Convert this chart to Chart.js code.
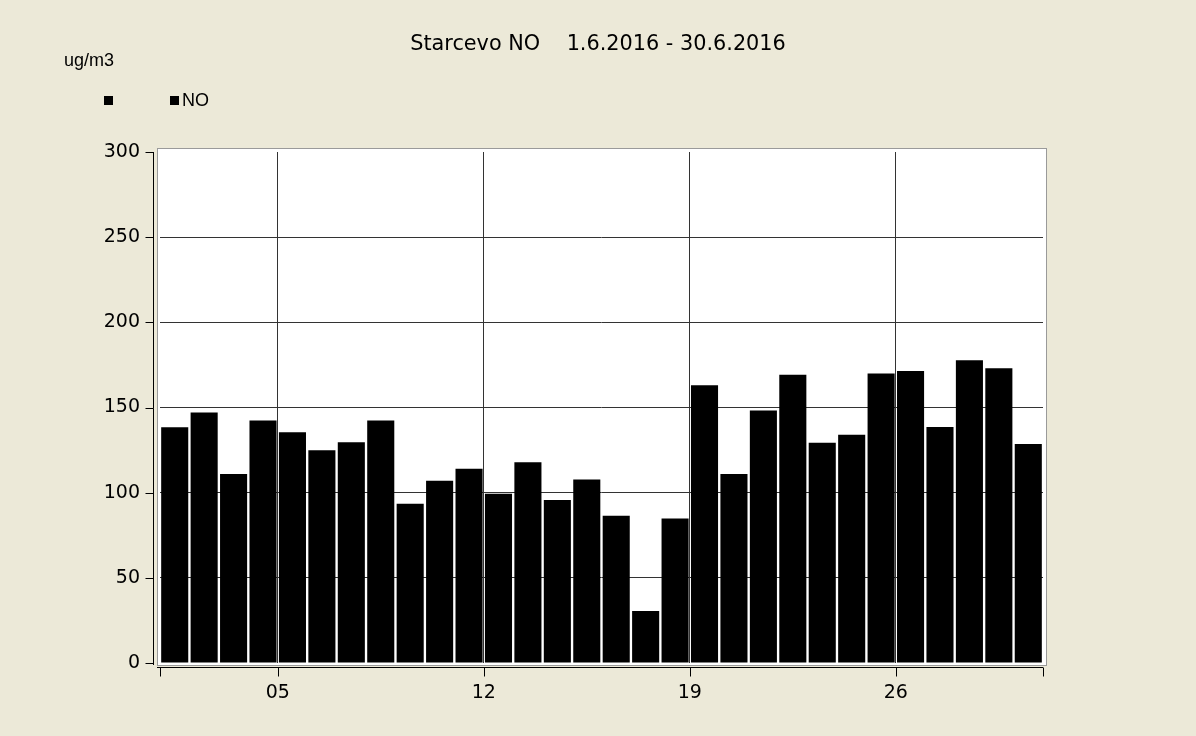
<!DOCTYPE html>
<html>
<head>
<meta charset="utf-8">
<script src="https://cdn.jsdelivr.net/npm/chart.js@4"></script>
<style>
  html, body { margin: 0; padding: 0; background: #ECE9D8; }
  canvas { display: block; }
</style>
</head>
<body>
<canvas id="c" width="1196" height="736"></canvas>
<script>
// ---- data ----
const titleText = 'Starcevo NO    1.6.2016 - 30.6.2016';
const unitLabel = 'ug/m3';
const seriesName = 'NO';
const days = [1,2,3,4,5,6,7,8,9,10,11,12,13,14,15,16,17,18,19,20,21,22,23,24,25,26,27,28,29,30];
const noValues = [138.4,147.0,111.0,142.3,135.4,124.9,129.6,142.3,93.5,107.0,
                  114.1,99.4,117.8,95.7,107.8,86.5,30.5,84.9,163.0,111.0,
                  148.3,169.3,129.3,134.0,170.0,171.4,138.6,177.7,173.0,128.6];
const xTickLabels = ['05','12','19','26'];
const yTickValues = [0,50,100,150,200,250,300];

const FONT = 'DejaVu Sans';
const FONT2 = 'Liberation Sans';

const decor = {
  id: 'decor',
  beforeDraw(chart) {
    const ctx = chart.ctx, a = chart.chartArea;
    ctx.save();
    ctx.fillStyle = '#ECE9D8';
    ctx.fillRect(0, 0, chart.width, chart.height);
    // plot box
    ctx.fillStyle = '#FFFFFF';
    ctx.fillRect(a.left - 2, a.top - 3, a.right - a.left + 5, a.bottom - a.top + 5);
    ctx.strokeStyle = '#9A9A9A';
    ctx.lineWidth = 1;
    ctx.strokeRect(a.left - 2.5, a.top - 3.5, a.right - a.left + 6, a.bottom - a.top + 6);
    ctx.restore();
  },
  afterDraw(chart) {
    const ctx = chart.ctx, a = chart.chartArea;
    const xs = chart.scales.x, ys = chart.scales.y;
    ctx.save();
    ctx.strokeStyle = '#000';
    ctx.lineWidth = 1;
    ctx.beginPath();
    // y axis line
    const axX = Math.round(a.left - 7) + 0.5;
    ctx.moveTo(axX, a.top);
    ctx.lineTo(axX, a.bottom + 2);
    yTickValues.forEach(v => {
      const y = Math.round(ys.getPixelForValue(v)) + 0.5;
      ctx.moveTo(axX - 8, y);
      ctx.lineTo(axX, y);
    });
    // x axis line
    const axY = Math.round(a.bottom + 4) + 0.5;
    ctx.moveTo(a.left - 3, axY);
    ctx.lineTo(a.right, axY);
    const xt = [0].concat(xTickLabels.map(l => parseInt(l, 10) - 1)).concat([days.length]);
    xt.forEach(v => {
      const x = Math.round(xs.getPixelForValue(v)) + 0.5;
      ctx.moveTo(x, axY);
      ctx.lineTo(x, axY + 9);
    });
    ctx.stroke();

    // title
    ctx.fillStyle = '#000';
    ctx.font = '20.8px "' + FONT + '"';
    ctx.textAlign = 'center';
    ctx.textBaseline = 'middle';
    ctx.fillText(titleText, 598, 45);

    // unit + legend
    ctx.font = '18px "' + FONT2 + '"';
    ctx.textAlign = 'left';
    ctx.textBaseline = 'alphabetic';
    ctx.fillText(unitLabel, 64, 66);
    ctx.fillRect(104, 96, 9, 9);
    ctx.fillRect(170, 96, 9, 9);
    ctx.textBaseline = 'middle';
    ctx.fillText(seriesName, 182, 101);
    ctx.restore();
  }
};

new Chart(document.getElementById('c'), {
  type: 'bar',
  data: {
    datasets: [{
      label: seriesName,
      data: days.map((d, i) => ({ x: d - 0.5, y: noValues[i] })),
      backgroundColor: '#000000',
      borderWidth: 0,
      barPercentage: 0.92,
      categoryPercentage: 1.0
    }]
  },
  options: {
    responsive: false,
    animation: false,
    layout: { padding: { top: 152, right: 153, left: 0, bottom: 0 } },
    plugins: { legend: { display: false }, title: { display: false }, tooltip: { enabled: false } },
    scales: {
      x: {
        type: 'linear',
        min: 0,
        max: days.length,
        offset: false,
        afterBuildTicks: s => { s.ticks = xTickLabels.map(l => ({ value: parseInt(l, 10) - 1 })); },
        afterFit: s => { s.height = 73; },
        ticks: {
          autoSkip: false,
          maxRotation: 0,
          padding: 19,
          color: '#000',
          font: { family: FONT, size: 19 },
          callback: (v) => {
            const i = xTickLabels.findIndex(l => parseInt(l, 10) - 1 === v);
            return i >= 0 ? xTickLabels[i] : '';
          }
        },
        grid: { color: '#333333', lineWidth: 1, drawTicks: false, offset: false },
        border: { display: false }
      },
      y: {
        min: 0,
        max: 300,
        afterBuildTicks: s => { s.ticks = yTickValues.map(v => ({ value: v })); },
        afterFit: s => { s.width = 160; },
        ticks: {
          padding: 20,
          color: '#000',
          font: { family: FONT, size: 19 }
        },
        grid: {
          color: c => (c.tick && (c.tick.value === 0 || c.tick.value === 300)) ? 'rgba(0,0,0,0)' : '#333333',
          lineWidth: 1,
          drawTicks: false
        },
        border: { display: false }
      }
    }
  },
  plugins: [decor]
});
</script>
</body>
</html>
